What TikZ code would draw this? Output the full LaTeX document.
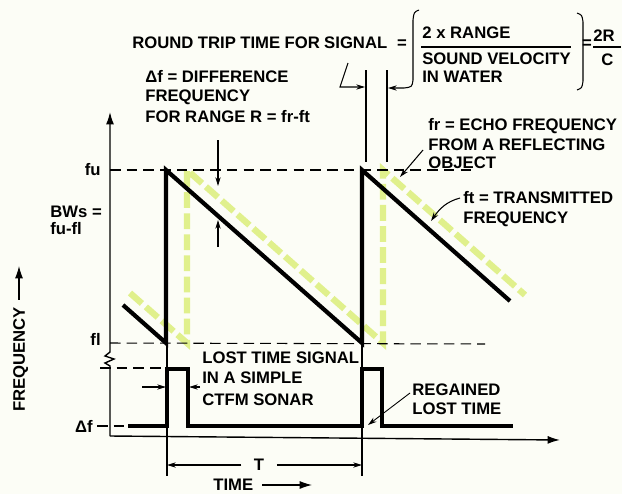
\documentclass[tikz,border=0pt]{standalone}
\usepackage{fontspec}
\setmainfont{Liberation Sans}[Ligatures=NoCommon]
\usetikzlibrary{arrows.meta}

\definecolor{paper}{RGB}{252,253,246}
\definecolor{echoyel}{RGB}{224,240,140}

\tikzset{
	lbl/.style={anchor=west, inner sep=0pt, text height=6.8pt, text depth=0pt, font=\fontsize{9.5}{11}\selectfont\bfseries},
	guide/.style={line width=0.6pt, dash pattern=on 6pt off 3.5pt},
	saw/.style={line width=2.4pt},
	echo/.style={line width=3.6pt, echoyel, dash pattern=on 9pt off 3pt},
	pulse/.style={line width=1.8pt},
	dim/.style={line width=0.6pt, -{Stealth[length=5pt,width=3pt]}},
	axis/.style={line width=0.8pt, -{Latex[length=7pt,width=4.5pt]}}
}

\begin{document}
\begin{tikzpicture}[x=0.02cm, y=-0.02cm]
	\fill[paper] (0,0) rectangle (622,494);
	\useasboundingbox (0,0) rectangle (622,494);

	% sawtooth: echo (delayed) under transmitted
	\draw[echo] (130,293) -- (187,343) -- (187,170) -- (383,343) -- (383,170) -- (525,295);
	\draw[saw] (123,305) -- (166,343) -- (166,170) -- (362,343) -- (362,170) -- (510,301);

	% axes
	\draw[axis] (110,436) -- (110,366) -- (105,363) -- (114,359) -- (105,356) -- (110,352) -- (110,112);
	\draw[axis] (110,436) -- (560,440);

	% levels
	\draw[guide] (110,170) -- (473,170);
	\draw[guide] (110,343) -- (485,344);
	\draw[guide] (100,368) -- (165,368);
	\draw[guide] (97,426) -- (128,426);

	% lost time signal
	\draw[pulse] (128,426) -| (167,369) -| (188,426) -| (362,369) -| (382,426) -- (513,426);
	\foreach \s in {167,362}
	{
		\draw[line width=0.6pt] (\s,345) -- (\s,476);
	}
	\draw[dim] (142,387) -- (166,387);
	\draw[dim] (200,387) -- (189,387);

	% difference frequency
	\draw[dim] (218,140) -- (218,186);
	\draw[dim] (218,247) -- (218,220);

	% round trip time
	\foreach \s in {366,387}
	{
		\draw[line width=0.6pt] (\s,70) -- (\s,162);
	}
	\coordinate (rtfoot) at (348,63);
	\coordinate (rttip) at (365,87);
	\draw[dim] (rtfoot) -- (340,87) -- (rttip);
	\draw[dim] (419,10) .. controls (414,12) .. (413,20) -- (413,80) .. controls (412,87) .. (404,88) -- (388,88);
	\draw[line width=0.6pt] (577,13) .. controls (582,15) .. (583,22) -- (583,81) .. controls (582,88) .. (577,90);
	\draw[line width=0.6pt] (421,47) -- (571,47);
	\draw[line width=0.6pt] (593,47) -- (621,47);

	% labels
	\node[lbl] (rt) at (132,43) {ROUND\hspace{2.5pt}TRIP\hspace{2.5pt}TIME\hspace{2.5pt}FOR\hspace{2.5pt}SIGNAL};
	\node[lbl, anchor=center] (eqa) at (402,43) {=};
	\node[lbl] (num) at (422,33) {2 x RANGE};
	\node[lbl] (den) at (422,59) {SOUND VELOCITY};
	\node[lbl] (den2) at (422,77) {IN WATER};
	\node[lbl, anchor=center] (eqb) at (587,43) {=};
	\node[lbl] (twor) at (593,36) {2R};
	\node[lbl] (cee) at (601,60) {C};

	\node[lbl] (df1) at (145,77) {Δf = DIFFERENCE};
	\node[lbl] (df2) at (145,96) {FREQUENCY};
	\node[lbl] (df3) at (145,117) {FOR RANGE R = fr-ft};

	\node[lbl] (fr1) at (428,125) {fr = ECHO FREQUENCY};
	\node[lbl] (fr2) at (428,145) {FROM A REFLECTING};
	\node[lbl] (fr3) at (428,163) {OBJECT};
	\coordinate (frtip) at (400,177);
	\draw[dim] ([shift={(-5,5)}]fr2.west) -- (frtip);

	\node[lbl] (ft1) at (463,198) {ft = TRANSMITTED};
	\node[lbl] (ft2) at (463,218) {FREQUENCY};
	\coordinate (fttip) at (431,221);
	\draw[dim] ([shift={(-3,0)}]ft1.west) to[out=195,in=55] (fttip);

	\node[lbl, anchor=east] (fu) at (101,170) {fu};
	\node[lbl] (bw1) at (50,212) {BWs =};
	\node[lbl] (bw2) at (50,229) {fu-fl};
	\node[lbl, anchor=east] (fl) at (101,340) {fl};
	\node[lbl, anchor=east] (dfl) at (93,427) {Δf};

	\node[lbl, rotate=90] (freq) at (19,412) {FREQUENCY};
	\coordinate (freqtip) at (19,266);
	\draw[axis, line width=0.6pt] ([shift={(0,-7)}]freq.east) -- (freqtip);

	\node[lbl] (lost1) at (202,358) {LOST TIME SIGNAL};
	\node[lbl] (lost2) at (202,378) {IN A SIMPLE};
	\node[lbl] (lost3) at (202,400) {CTFM SONAR};

	\node[lbl] (reg1) at (412,390) {REGAINED};
	\node[lbl] (reg2) at (412,409) {LOST TIME};
	\coordinate (regtip) at (368,425);
	\draw[dim, line width=0.5pt] ([shift={(-2,3)}]reg1.west) -- (regtip);

	\node[lbl, anchor=center] (tper) at (259,465) {T};
	\coordinate (t0) at (167,465);
	\coordinate (t1) at (362,465);
	\draw[dim, shorten <=7pt] (tper) -- (t0);
	\draw[dim, shorten <=7pt] (tper) -- (t1);

	\node[lbl] (time) at (213,485) {TIME};
	\coordinate (timetip) at (312,485);
	\draw[axis, line width=0.6pt, shorten <=5pt] (time.east) -- (timetip);
\end{tikzpicture}
\end{document}
